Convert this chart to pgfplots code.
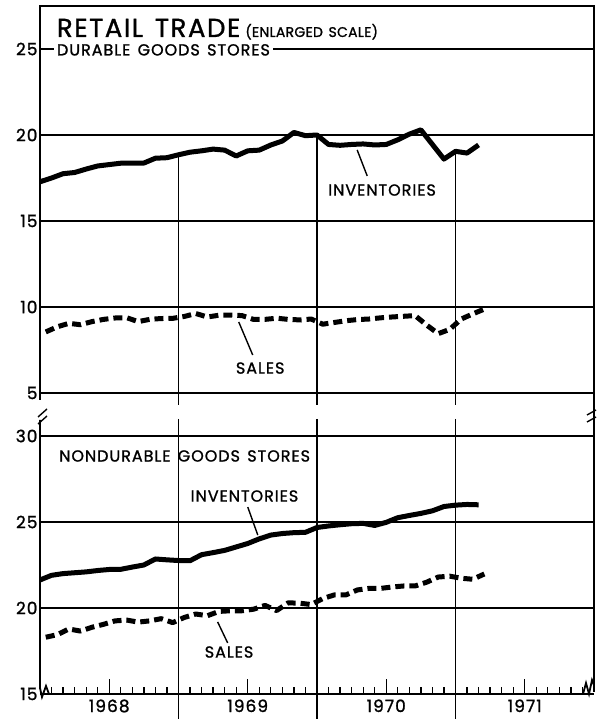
\documentclass[border=0pt]{standalone}
\usepackage{fontspec}
\setmainfont{Poppins}[FakeBold=1.2, LetterSpace=6, WordSpace=1.4]
\usepackage{pgfplots}
\pgfplotsset{compat=1.18}
\usepackage{pgfplotstable}

% durable goods stores (values as read, shifted into the upper panel when plotted)
\pgfplotstableread{
m v
0 17.28
1 17.50
2 17.75
3 17.82
4 18.02
5 18.20
6 18.28
7 18.36
8 18.37
9 18.37
10 18.65
11 18.68
12 18.85
13 19.00
14 19.08
15 19.18
16 19.12
17 18.78
18 19.08
19 19.12
20 19.42
21 19.65
22 20.15
23 19.96
24 20.00
25 19.45
26 19.40
27 19.45
28 19.48
29 19.42
30 19.45
31 19.72
32 20.05
33 20.30
34 19.45
35 18.60
36 19.05
37 18.95
38 19.42
}\durinv

\pgfplotstableread{
m v
0.5 8.55
1.5 8.85
2.5 9.05
3.5 8.97
4.5 9.15
5.5 9.28
6.5 9.36
7.5 9.38
8.5 9.15
9.5 9.28
10.5 9.33
11.5 9.34
12.5 9.45
13.5 9.62
14.5 9.42
15.5 9.52
16.5 9.53
17.5 9.50
18.5 9.28
19.5 9.28
20.5 9.35
21.5 9.28
22.5 9.25
23.5 9.30
24.5 9.00
25.5 9.10
26.5 9.20
27.5 9.27
28.5 9.30
29.5 9.37
30.5 9.42
31.5 9.46
32.5 9.50
33.5 8.95
34.5 8.45
35.5 8.70
36.5 9.30
37.5 9.60
38.5 9.88
}\dursales

% nondurable goods stores
\pgfplotstableread{
m v
0 21.63
1 21.90
2 22.00
3 22.05
4 22.10
5 22.18
6 22.24
7 22.25
8 22.38
9 22.50
10 22.85
11 22.80
12 22.76
13 22.75
14 23.10
15 23.22
16 23.35
17 23.55
18 23.75
19 24.02
20 24.24
21 24.33
22 24.38
23 24.40
24 24.68
25 24.77
26 24.84
27 24.90
28 24.92
29 24.80
30 24.98
31 25.25
32 25.38
33 25.50
34 25.65
35 25.90
36 25.98
37 26.02
38 26.00
}\ndurinv

\pgfplotstableread{
m v
0.5 18.30
1.5 18.45
2.5 18.78
3.5 18.66
4.5 18.88
5.5 19.05
6.5 19.25
7.5 19.30
8.5 19.18
9.5 19.25
10.5 19.38
11.5 19.15
12.5 19.45
13.5 19.65
14.5 19.55
15.5 19.80
16.5 19.84
17.5 19.84
18.5 19.93
19.5 20.15
20.5 19.85
21.5 20.30
22.5 20.28
23.5 20.20
24.5 20.55
25.5 20.76
26.5 20.76
27.5 21.05
28.5 21.14
29.5 21.14
30.5 21.22
31.5 21.28
32.5 21.28
33.5 21.50
34.5 21.80
35.5 21.85
36.5 21.73
37.5 21.67
38.5 21.98
}\ndursales

\begin{document}
\begin{tikzpicture}
\useasboundingbox (-40pt,-25pt) rectangle (557pt,694pt);
\begin{axis}[
    at={(0,0)}, anchor=south west,
    scale only axis, width=554pt, height=688pt,
    xmin=0, xmax=48, ymin=15, ymax=55,
    clip=false,
    axis line style={draw=none},
    tick align=inside,
    xtick pos=bottom, ytick pos=left,
    xtick={6,18,30,42},
    xticklabels={1968,1969,1970,1971},
    minor xtick={1,...,47},
    major tick length=15pt, minor tick length=7pt,
    every tick/.style={black, line width=1.3pt},
    ytick={15,20,25,30,32.5,37.5,42.5,47.5,52.5},
    yticklabels={15,20,25,30,5,10,15,20,25},
    ytick style={draw=none},
    ymajorgrids,
    major grid style={black, line width=1.1pt},
    ticklabel style={font=\fontsize{17}{19}\selectfont},
    xticklabel style={yshift=-2pt},
    yticklabel style={xshift=1pt},
    /pgf/number format/assume math mode=true,
]
% year boundaries: from the inventory curve down in the upper panel, full in the lower
\draw[black, line width=1.1pt] (axis cs:12,46.35) -- (axis cs:12,31.8);
\draw[black, line width=1.1pt] (axis cs:12,31.0) -- (axis cs:12,15) -- ++(0,-25pt);
\draw[black, line width=1.1pt] (axis cs:24,47.5) -- (axis cs:24,31.8);
\draw[black, line width=1.1pt] (axis cs:24,31.0) -- (axis cs:24,15) -- ++(0,-25pt);
\draw[black, line width=1.1pt] (axis cs:36,46.55) -- (axis cs:36,31.8);
\draw[black, line width=1.1pt] (axis cs:36,31.0) -- (axis cs:36,15) -- ++(0,-25pt);

\addplot[black, line width=5pt, line join=round] table[x=m, y expr=\thisrow{v}+27.5] {\durinv};
\addplot[black, line width=5pt, line join=round, dash pattern=on 9pt off 5pt] table[x=m, y expr=\thisrow{v}+27.5] {\dursales};
\addplot[black, line width=5pt, line join=round] table[x=m, y=v] {\ndurinv};
\addplot[black, line width=5pt, line join=round, dash pattern=on 9pt off 5pt] table[x=m, y=v] {\ndursales};

% titles and labels
\node[anchor=base west, inner sep=0pt] at (axis cs:1.45,53.2)
  {\fontsize{26}{28}\selectfont RETAIL TRADE\hspace{5pt}%
   \fontsize{14}{16}\selectfont\addfontfeature{LetterSpace=2}(ENLARGED SCALE)};
\node[anchor=west, fill=white, inner sep=3pt] at (axis cs:1.2,52.45)
  {\fontsize{16}{18}\selectfont DURABLE GOODS STORES};
\node[anchor=west, inner sep=0pt] at (axis cs:24.96,44.3) {\fontsize{16}{18}\selectfont INVENTORIES};
\node[anchor=west, inner sep=0pt] at (axis cs:16.96,33.95) {\fontsize{16}{18}\selectfont SALES};
\node[anchor=west, inner sep=0pt] at (axis cs:1.65,28.84) {\fontsize{16}{18}\selectfont NONDURABLE GOODS STORES};
\node[anchor=west, inner sep=0pt] at (axis cs:13.04,26.51) {\fontsize{16}{18}\selectfont INVENTORIES};
\node[anchor=west, inner sep=0pt] at (axis cs:14.26,17.44) {\fontsize{16}{18}\selectfont SALES};

% leader lines
\draw[line width=1.4pt] (axis cs:27.48,46.63) -- (axis cs:28.35,45.12);
\draw[line width=1.4pt] (axis cs:17.22,36.63) -- (axis cs:18.43,34.71);
\draw[line width=1.4pt] (axis cs:18.0,25.87) -- (axis cs:18.87,24.24);
\draw[line width=1.4pt] (axis cs:15.39,19.19) -- (axis cs:16.26,17.97);
\end{axis}

% frame with scale breaks
\draw[line width=1.8pt] (0pt,294pt) -- (0pt,688pt) -- (554pt,688pt) -- (554pt,2pt);
\draw[line width=1.8pt] (0pt,274pt) -- (0pt,6pt) -- (2pt,-3pt) -- (6pt,8pt) -- (9pt,0pt) -- (12pt,0pt) -- (543pt,0pt)
  -- (546pt,11pt) -- (549pt,0pt) -- (552pt,14pt) -- (554pt,9pt);
\draw[line width=1.4pt] (-2pt,277pt) -- (7pt,285pt);
\draw[line width=1.4pt] (-2pt,270pt) -- (7pt,278pt);
\draw[line width=1.4pt] (547pt,279pt) -- (556pt,284pt);
\draw[line width=1.4pt] (547pt,272pt) -- (556pt,277pt);
\end{tikzpicture}
\end{document}
